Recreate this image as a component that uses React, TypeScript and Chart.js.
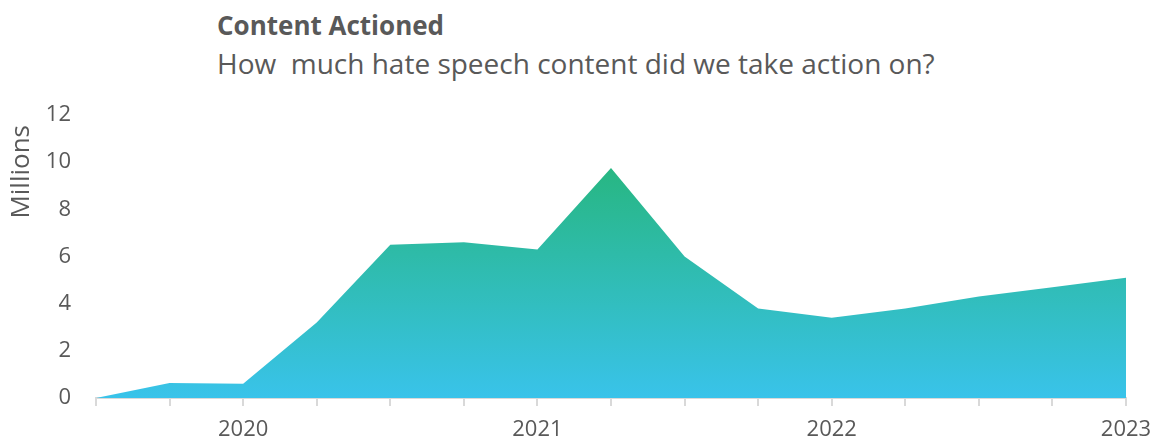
import React, { useEffect, useRef } from "react";
import { Chart, registerables } from "chart.js";

Chart.register(...registerables);

const quarterLabels: string[] = ["", "", "2020", "", "", "", "2021", "", "", "", "2022", "", "", "", "2023"];
const contentActioned: number[] = [0, 0.64, 0.6, 3.2, 6.5, 6.6, 6.3, 9.75, 6.0, 3.8, 3.4, 3.8, 4.3, 4.7, 5.1];
const yTicks: number[] = [0, 2, 4, 6, 8, 10, 12];
const yAxisTitle = "Millions";

const FONT = "'Open Sans', 'Noto Sans', sans-serif";
const TEXT = "#595959";

const yTitlePlugin = {
  id: "yTitlePlugin",
  afterDraw(chart: any) {
    const { ctx, chartArea } = chart;
    ctx.save();
    ctx.translate(22, chartArea.top + 10);
    ctx.rotate(-Math.PI / 2);
    ctx.font = `26px ${FONT}`;
    ctx.fillStyle = TEXT;
    ctx.textAlign = "right";
    ctx.textBaseline = "middle";
    ctx.fillText(yAxisTitle, 0, 0);
    ctx.restore();
  },
};

export default function App() {
  const ref = useRef<HTMLCanvasElement | null>(null);

  useEffect(() => {
    if (!ref.current) return;
    const chart = new Chart(ref.current, {
      type: "line",
      data: {
        labels: quarterLabels,
        datasets: [
          {
            data: contentActioned,
            fill: "origin",
            borderWidth: 0,
            pointRadius: 0,
            tension: 0,
            backgroundColor: (ctx: any) => {
              const { chart } = ctx;
              const { chartArea, scales } = chart;
              if (!chartArea) return "#30bdb0";
              const y0 = scales.y.getPixelForValue(0);
              const y1 = scales.y.getPixelForValue(10);
              const g = chart.ctx.createLinearGradient(0, y1, 0, y0);
              g.addColorStop(0, "#27b67f");
              g.addColorStop(1, "#39c3ea");
              return g;
            },
          },
        ],
      },
      plugins: [yTitlePlugin],
      options: {
        animation: false,
        responsive: false,
        maintainAspectRatio: false,
        layout: { padding: { top: 15, right: 31, left: 0, bottom: 0 } },
        plugins: { legend: { display: false }, tooltip: { enabled: false } },
        scales: {
          x: {
            type: "category",
            offset: false,
            afterFit: (scale: any) => {
              scale.height = 46;
              scale.paddingLeft = 0;
              scale.paddingRight = 0;
            },
            grid: {
              drawOnChartArea: false,
              drawTicks: true,
              tickLength: 8,
              color: "#d9d9d9",
              lineWidth: 2,
            },
            border: { display: true, color: "#d9d9d9", width: 2 },
            ticks: {
              autoSkip: false,
              maxRotation: 0,
              padding: 11,
              color: TEXT,
              font: { family: FONT, size: 22 },
            },
          },
          y: {
            min: 0,
            max: 12,
            afterFit: (scale: any) => {
              scale.width = 96;
              scale.paddingTop = 0;
              scale.paddingBottom = 0;
            },
            afterBuildTicks: (scale: any) => {
              scale.ticks = yTicks.map((v) => ({ value: v }));
            },
            grid: { display: false },
            border: { display: false },
            ticks: {
              padding: 17,
              color: TEXT,
              font: { family: FONT, size: 22 },
            },
          },
        },
      },
    });
    return () => chart.destroy();
  }, []);

  return (
    <div style={{ position: "absolute", left: 0, top: 0, width: 1157, height: 444, background: "#fff", overflow: "hidden" }}>
      <div
        style={{
          position: "absolute",
          left: 217,
          top: 7,
          fontFamily: FONT,
          fontWeight: 700,
          fontSize: 26,
          color: TEXT,
          lineHeight: "36px",
          whiteSpace: "pre",
        }}
      >
        Content Actioned
      </div>
      <div
        style={{
          position: "absolute",
          left: 217,
          top: 44,
          fontFamily: FONT,
          fontSize: 28,
          color: TEXT,
          lineHeight: "38px",
          whiteSpace: "pre",
        }}
      >
        {"How  much hate speech content did we take action on?"}
      </div>
      <canvas ref={ref} width={1157} height={344} style={{ position: "absolute", left: 0, top: 100 }} />
    </div>
  );
}
